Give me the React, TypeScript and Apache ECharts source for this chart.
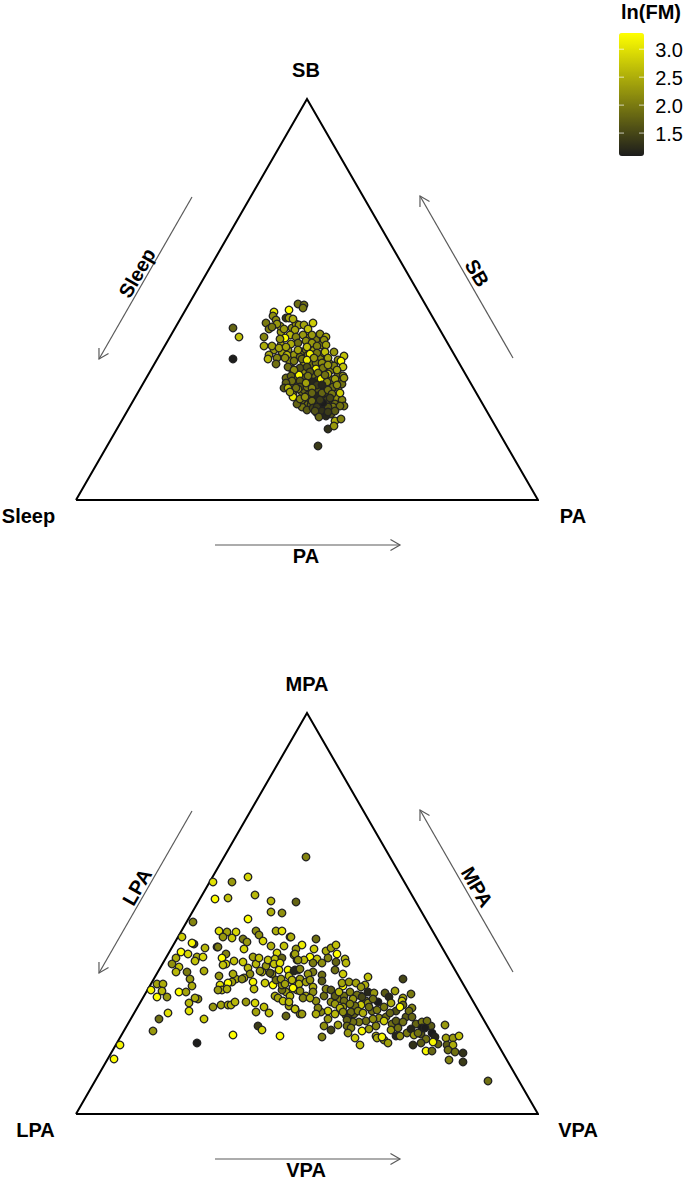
import React, { useEffect, useRef } from "react";
import * as echarts from "echarts";

const FONT = "'Liberation Sans', Arial, sans-serif";

// Ternary positions: [position along the base, height above the base, ln(FM)]
// base of the triangle = 462 units, height = 401 units
const triangleVertices = [[0, 0], [462, 0], [231, 401], [0, 0]];

const timeUsePoints = [
  [218,145,2.3],[225,148,2.2],[230,150,2.0],[238,150,2.4],[244,143,2.1],[228,135,2.5],[236,136,1.9],[220,125,2.0],[228,128,2.2],[238,125,1.9],
  [245,128,1.9],[255,130,2.1],[262,126,2.0],[226,118,1.9],[234,118,1.6],[242,110,1.7],[248,115,1.5],[255,113,1.9],[262,112,2.1],[226,108,1.9],
  [238,102,1.5],[250,104,1.7],[244,92,1.3],[254,97,1.5],[256,90,1.8],[212,150,2.3],[206,148,2.4],[216,172,2.2],[205,168,2.3],[240,160,2.0],
  [245,155,2.2],[258,148,2.3],[262,140,2.2],[254,136,2.0],[214,120,1.9],[220,116,1.8],[232,96,1.9],[260,102,2.2],[266,100,2.1],
  [228,110,1.8],[234,101,1.6],[239,96,1.4],[247,102,1.3],[252,106,1.4],[242,120,1.6],[229,122,1.7],[221,121,1.9],[216,114,2.0],[210,122,1.9],
  [247,122,1.9],[256,120,1.9],[263,118,1.9],[249,91,1.4],[241,87,1.5],[235,95,1.8],[226,93,2.0],[231,90,1.7],[255,86,1.6],[213,140,2.2],
  [224,143,1.9],[232,145,2.1],[240,137,2.0],[248,147,2.1],[205,155,2.5],[198,150,2.3],[220,176,2.3],[232,162,2.3],[244,166,2.2],[204,174,2.5],
  [157,172,1.8],[163,163,2.7],[157,141,1.1],[242,54,1.4],[252,71,1.3],[259,79,2.5],[265,81,2.1],[258,74,2.3],[222,196,1.9],[228,195,1.9],
  [227,192,2.0],[213,190,3.3],[198,188,3.1],[197,184,2.2],[210,182,1.4],[213,182,2.4],[217,181,2.5],[200,180,2.2],[190,177,2.0],[201,176,2.3],
  [193,171,2.1],[196,173,2.0],[237,177,2.8],[223,175,2.3],[228,175,2.4],[232,171,2.7],[208,171,2.3],[219,170,2.4],[188,163,2.1],[214,165,2.6],
  [227,165,2.3],[236,165,2.3],[209,162,3.3],[204,161,2.3],[220,163,2.1],[250,163,2.5],[248,160,2.2],[222,157,1.9],[230,159,2.2],[215,156,2.5],
  [236,157,2.3],[188,154,2.5],[196,154,2.4],[203,152,2.4],[210,153,2.4],[231,153,2.7],[222,150,2.4],[241,154,2.1],[250,155,2.4],[211,145,2.6],
  [249,148,2.7],[241,147,2.0],[234,146,3.2],[268,144,2.7],[193,145,2.4],[192,141,2.6],[201,142,2.1],[200,136,1.9],[209,142,2.2],[218,139,2.0],
  [226,141,1.9],[231,140,3.1],[238,142,2.3],[246,137,2.2],[252,142,2.4],[265,139,3.3],[258,134,2.1],[267,133,2.7],[216,131,1.9],[212,133,1.9],
  [224,132,1.6],[231,133,1.6],[240,131,3.2],[247,132,2.0],[252,135,2.3],[261,130,2.4],[223,125,3.3],[218,130,2.2],[234,128,1.7],[232,124,2.0],
  [252,126,2.7],[242,127,2.0],[267,124,2.3],[215,124,1.8],[224,119,1.7],[216,119,1.9],[210,117,1.8],[237,118,1.2],[245,121,3.2],[259,121,2.4],
  [251,118,2.1],[266,116,1.9],[268,122,2.3],[208,112,1.7],[212,112,2.6],[224,113,1.6],[231,113,2.0],[241,115,1.4],[246,115,1.2],[236,112,2.1],
  [222,111,2.3],[257,113,1.9],[217,105,2.6],[217,103,3.1],[232,105,1.6],[241,104,1.2],[246,107,1.8],[252,110,1.9],[264,107,2.8],[256,106,2.0],
  [226,100,2.0],[221,96,1.8],[236,99,1.9],[243,97,1.5],[251,100,1.6],[259,96,1.9],[237,92,1.5],[241,93,1.4],[257,93,2.0],[268,94,2.0],
  [264,94,1.9],[252,93,1.6],[246,89,1.3],[239,89,1.6],[259,89,1.7],[243,83,1.8],[250,84,1.2],[252,88,1.4],[224,101,2.1],[230,117,2.4],
  [249,125,1.9],[261,115,2.2],[254,102,1.5],[229,103,2.2],[247,97,1.1],[244,100,1.4],[236,107,1.8],[220,112,1.9],[214,108,2.4],
];

const intensityPoints = [
  [285,118,2.0],[290,113,1.9],[296,103,1.9],[303,96,2.2],[300,88,2.1],[310,97,1.9],[320,103,1.6],[316,90,1.9],[330,97,1.7],[340,90,1.8],
  [345,80,1.6],[278,100,1.8],[270,99,2.0],[262,115,2.1],[255,112,2.2],[248,118,1.9],[240,113,2.2],[230,118,2.4],[224,135,2.3],[210,122,2.4],
  [214,118,2.6],[196,140,2.4],[190,148,2.3],[180,150,2.6],[160,135,2.5],[290,93,1.9],[283,92,2.0],[355,88,1.7],[362,70,1.8],
  [230,257,2.1],[137,232,3.0],[156,232,2.3],[172,237,2.9],[179,219,2.6],[195,213,2.6],[220,212,1.8],[139,215,3.3],[152,216,2.7],[195,202,2.5],
  [206,201,2.2],[117,192,2.1],[172,195,3.3],[106,177,2.8],[143,183,3.0],[151,182,2.4],[160,182,2.9],[147,177,2.3],[156,176,2.8],[180,183,2.2],
  [183,179,2.2],[187,173,2.9],[200,183,2.5],[206,183,3.0],[214,177,2.4],[167,175,2.0],[171,172,2.3],[168,165,2.9],[118,170,1.5],[116,171,3.2],
  [129,166,2.6],[141,167,1.5],[142,167,2.0],[105,162,3.3],[112,160,2.9],[100,156,2.5],[96,150,2.2],[103,147,2.7],[100,142,2.6],[121,157,2.5],
  [119,153,2.7],[127,157,2.9],[128,143,2.5],[150,160,2.1],[146,156,3.3],[150,150,2.9],[147,149,2.7],[158,153,2.7],[167,152,2.8],[172,146,2.6],
  [177,157,2.4],[183,156,2.7],[195,168,2.5],[208,168,2.7],[201,161,2.9],[192,154,2.7],[199,155,2.7],[206,156,1.8],[198,150,2.7],[204,151,3.0],
  [218,159,2.6],[221,154,2.3],[219,144,1.5],[212,144,3.2],[203,144,3.0],[194,141,1.7],[186,142,2.7],[184,143,2.3],[174,140,2.2],[157,140,2.5],
  [143,138,2.3],[111,142,2.0],[114,135,2.3],[116,128,2.5],[168,136,2.7],[166,135,2.2],[177,132,3.2],[156,132,2.4],[152,131,3.3],[144,129,3.0],
  [146,124,2.7],[142,124,2.3],[151,125,2.5],[178,125,2.7],[189,131,2.8],[197,129,3.3],[81,130,2.4],[87,130,2.5],[86,123,2.6],[91,117,2.3],
  [75,124,3.2],[81,117,3.3],[103,122,3.3],[110,122,2.4],[122,115,2.2],[119,116,2.5],[113,111,2.6],[113,103,3.0],[92,101,3.0],[83,95,1.9],
  [77,83,2.3],[128,95,2.8],[137,107,2.3],[145,109,2.4],[152,109,2.5],[155,109,2.6],[159,112,2.6],[170,112,2.3],[179,111,2.9],[180,102,2.4],
  [188,107,2.7],[193,101,2.7],[210,98,1.8],[182,88,1.4],[186,84,2.9],[157,79,3.3],[204,78,3.3],[121,71,1.1],[44,69,3.2],[38,55,3.3],
  [199,118,2.5],[202,116,2.4],[207,113,2.7],[213,108,2.4],[219,105,2.5],[224,100,2.2],[213,112,2.6],[206,124,1.9],[206,129,2.2],[200,134,1.9],
  [205,135,2.3],[209,130,2.4],[216,134,2.5],[213,138,2.7],[217,126,3.3],[221,124,2.4],[222,144,2.3],[223,130,2.6],
  [215,177,2.5],[240,175,1.9],[226,169,3.1],[220,165,2.3],[238,165,2.8],[219,160,2.4],[250,163,2.5],[255,166,2.4],[260,169,2.7],[261,160,3.3],
  [252,156,2.1],[234,157,3.3],[228,154,2.6],[222,154,2.2],[241,155,2.7],[237,151,2.0],[246,151,2.2],[260,152,1.8],[269,155,2.6],[270,151,2.6],
  [259,144,1.9],[267,140,2.8],[292,137,2.7],[327,135,1.5],[218,143,1.2],[224,145,2.1],[237,142,2.0],[232,140,2.3],[246,139,1.9],[230,132,2.4],
  [216,134,2.6],[246,133,1.7],[217,126,3.3],[224,123,2.2],[237,127,2.5],[234,134,2.3],[237,122,2.2],[227,116,2.1],[234,116,2.5],[250,125,2.1],
  [255,124,1.7],[259,118,1.7],[267,128,3.3],[266,131,2.4],[273,132,2.3],[280,131,2.4],[289,129,2.5],[285,127,2.3],[292,122,1.2],[298,121,2.3],
  [309,121,1.7],[313,117,1.2],[319,123,2.4],[335,120,2.0],[327,116,2.4],[268,118,1.9],[263,122,2.6],[274,122,2.1],[281,119,1.9],[286,117,1.5],
  [259,110,2.3],[277,115,2.3],[268,113,1.9],[292,111,2.2],[302,112,1.1],[297,115,1.9],[315,111,2.5],[326,113,2.8],[327,109,1.9],[336,106,2.1],
  [324,107,3.3],[333,103,1.9],[314,101,1.8],[308,107,2.0],[301,104,2.0],[293,107,1.9],[285,109,2.8],[279,108,1.9],[274,110,2.1],[267,107,2.3],
  [264,106,2.6],[259,100,2.6],[252,103,2.8],[245,102,2.1],[242,106,2.1],[240,100,2.5],[226,100,2.3],[219,105,2.7],[267,102,2.2],[275,102,1.9],
  [282,103,2.1],[287,101,2.5],[297,95,2.2],[272,96,1.4],[277,92,1.9],[271,94,1.8],[252,95,2.3],[248,88,2.2],[262,89,2.4],[271,88,1.9],
  [275,86,2.1],[255,84,1.5],[246,77,2.1],[272,81,2.3],[279,76,2.8],[284,69,2.7],[286,83,3.2],[293,85,2.3],[300,78,2.6],[301,76,2.5],
  [308,74,2.3],[312,71,2.4],[306,77,3.2],[308,93,2.8],[315,84,2.3],[320,93,1.7],[327,92,1.9],[322,86,1.9],[320,78,1.2],[324,78,2.2],
  [331,81,2.0],[335,85,1.2],[338,79,2.3],[346,92,2.0],[351,93,1.9],[336,97,1.8],[346,86,1.1],[349,86,1.1],[342,81,1.9],[350,75,1.9],
  [356,81,1.1],[359,77,1.2],[345,71,1.7],[337,69,1.3],[357,72,3.2],[350,63,3.2],[356,63,1.8],[369,89,2.3],[370,76,2.4],[377,76,2.3],
  [383,78,2.7],[371,69,1.7],[377,69,2.5],[372,64,1.9],[379,62,1.9],[387,61,1.3],[373,54,2.1],[387,52,1.4],[412,33,1.9],
];

const colourTicks = [3.0, 2.5, 2.0, 1.5];
const colourMin = 1.09;
const colourMax = 3.29;

const topLabels = { apex: "SB", left: "Sleep", right: "PA", arrowLeft: "Sleep", arrowRight: "SB", arrowBottom: "PA" };
const bottomLabels = { apex: "MPA", left: "LPA", right: "VPA", arrowLeft: "LPA", arrowRight: "MPA", arrowBottom: "VPA" };

function label(text: string, x: number, y: number, size = 20, rotation = 0, weight = "bold", align = "center") {
  return {
    type: "text",
    x,
    y,
    rotation: (rotation * Math.PI) / 180,
    z: 20,
    style: { text, fontFamily: FONT, fontSize: size, fontWeight: weight, fill: "#000", align, verticalAlign: "middle" },
  };
}

function arrow(x1: number, y1: number, x2: number, y2: number) {
  const a = Math.atan2(y2 - y1, x2 - x1);
  const head = 11;
  const spread = (30 * Math.PI) / 180;
  const stroke = { stroke: "#5a5a5a", lineWidth: 1.2, fill: "none" };
  return [
    { type: "line", z: 10, shape: { x1, y1, x2, y2 }, style: stroke },
    {
      type: "polyline",
      z: 10,
      shape: {
        points: [
          [x2 - head * Math.cos(a - spread), y2 - head * Math.sin(a - spread)],
          [x2, y2],
          [x2 - head * Math.cos(a + spread), y2 - head * Math.sin(a + spread)],
        ],
      },
      style: stroke,
    },
  ];
}

function panelGraphics(l: typeof topLabels, dy: number, xs: { apex: number; left: number; right: number; bottom: number }) {
  return [
    label(l.apex, xs.apex, 70 + dy),
    label(l.left, xs.left, 516 + dy),
    label(l.right, xs.right, 516 + dy),
    label(l.arrowBottom, xs.bottom, 555.5 + dy),
    label(l.arrowLeft, 137, 273 + dy, 20, 60),
    label(l.arrowRight, 477, 273 + dy, 20, -60),
    ...arrow(192, 197 + dy, 99, 359 + dy),
    ...arrow(513, 358 + dy, 420, 196 + dy),
    ...arrow(215, 545 + dy, 400, 545 + dy),
  ];
}

const barLeft = 619;
const barTop = 33;
const barW = 25;
const barH = 123;

export default function App() {
  const ref = useRef<HTMLDivElement>(null);
  useEffect(() => {
    document.body.style.margin = "0";
    const chart = echarts.init(ref.current!, null, { renderer: "svg" });
    const tickY = (v: number) => barTop + ((colourMax - v) / (colourMax - colourMin)) * barH;
    const axis = (gridIndex: number, max: number) => ({
      type: "value" as const,
      gridIndex,
      min: 0,
      max,
      show: false,
    });
    const tri = (idx: number) => ({
      type: "line" as const,
      xAxisIndex: idx,
      yAxisIndex: idx,
      data: triangleVertices,
      symbol: "none",
      silent: true,
      clip: false,
      z: 1,
      lineStyle: { color: "#000", width: 2, join: "miter" },
    });
    const dots = (idx: number, data: number[][]) => ({
      type: "scatter" as const,
      xAxisIndex: idx,
      yAxisIndex: idx,
      data,
      symbol: "circle",
      symbolSize: 7.6,
      clip: false,
      z: 3,
      itemStyle: { borderColor: "#222", borderWidth: 1.3, opacity: 1 },
    });
    chart.setOption({
      animation: false,
      backgroundColor: "#fff",
      grid: [
        { left: 76, top: 99, width: 462, height: 401 },
        { left: 76, top: 713, width: 462, height: 401 },
      ],
      xAxis: [axis(0, 462), axis(1, 462)],
      yAxis: [axis(0, 401), axis(1, 401)],
      visualMap: {
        type: "continuous",
        min: colourMin,
        max: colourMax,
        dimension: 2,
        seriesIndex: [2, 3],
        left: barLeft,
        top: barTop,
        itemWidth: barW,
        itemHeight: barH,
        padding: 0,
        calculable: false,
        hoverLink: false,
        text: null,
        showLabel: false,
        inRange: { color: ["#1c1c1c", "#ffff00"] },
      },
      series: [tri(0), tri(1), dots(0, timeUsePoints), dots(1, intensityPoints)],
      graphic: [
        ...panelGraphics(topLabels, 0, { apex: 306, left: 28.5, right: 573, bottom: 306 }),
        ...panelGraphics(bottomLabels, 614, { apex: 307, left: 35.5, right: 578, bottom: 306 }),
        label("ln(FM)", 651, 12, 20),
        ...colourTicks.flatMap((v) => [
          { type: "line", z: 30, shape: { x1: barLeft, y1: tickY(v), x2: barLeft + 5, y2: tickY(v) }, style: { stroke: "rgba(255,255,255,0.7)", lineWidth: 1 } },
          { type: "line", z: 30, shape: { x1: barLeft + barW - 5, y1: tickY(v), x2: barLeft + barW, y2: tickY(v) }, style: { stroke: "rgba(255,255,255,0.7)", lineWidth: 1 } },
          label(v.toFixed(1), 683, tickY(v) + 1, 20, 0, "normal", "right"),
        ]),
      ],
    });
    return () => chart.dispose();
  }, []);
  return <div ref={ref} style={{ width: 685, height: 1184 }} />;
}
